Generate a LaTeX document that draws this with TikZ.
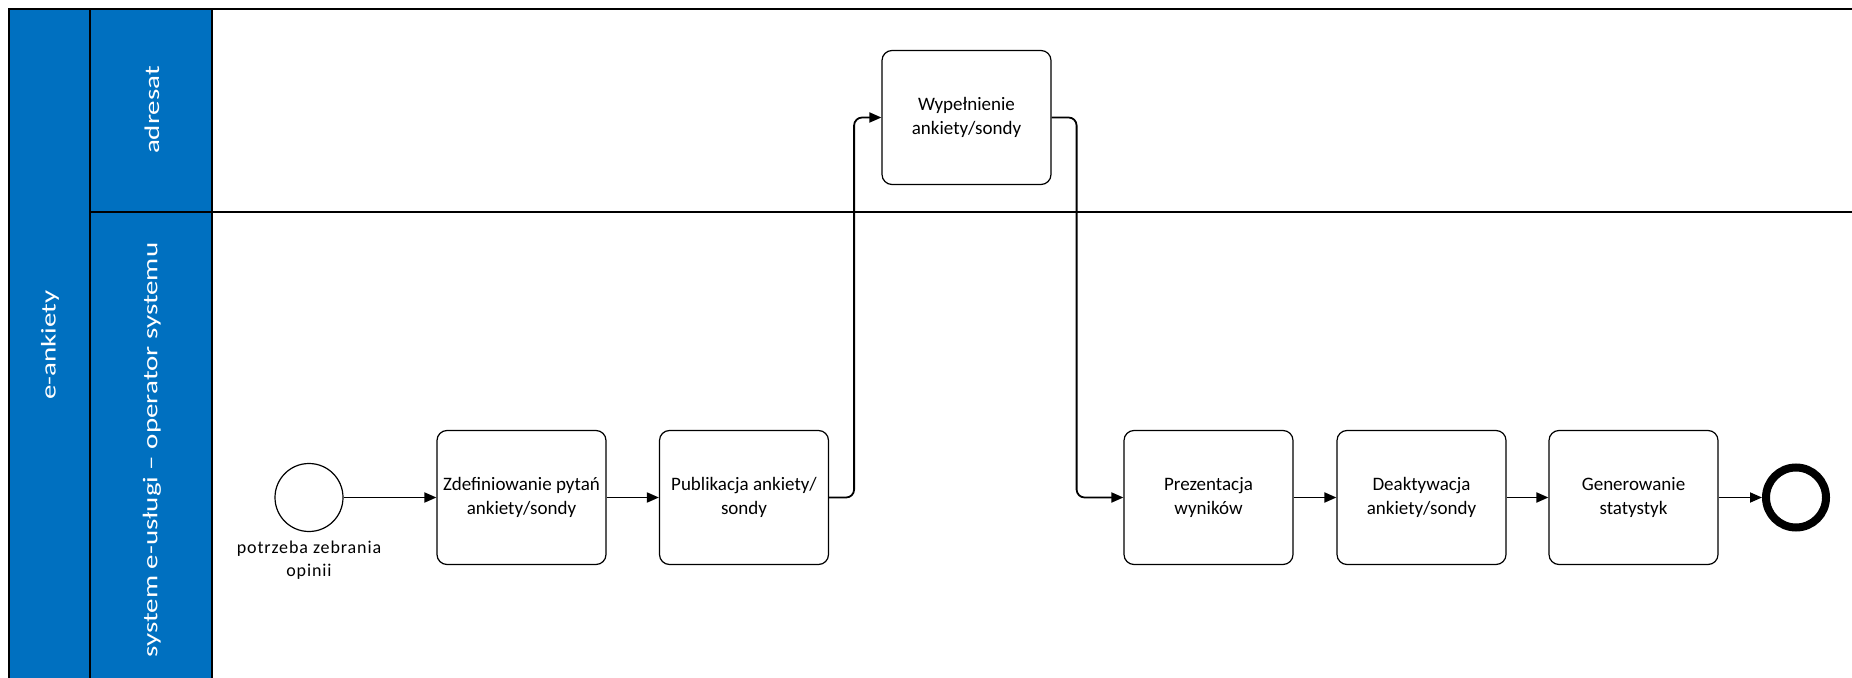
\documentclass[tikz,border=0pt]{standalone}
\usepackage{fontspec}
\setmainfont{Carlito}
\usetikzlibrary{arrows.meta}
\definecolor{hdr}{HTML}{0070C0}
\begin{document}
\begin{tikzpicture}[x=0.5pt,y=-0.5pt,
  task/.style={draw, rounded corners=5pt, minimum width=84.5pt, minimum height=67pt,
    align=center, inner sep=2pt, font=\fontsize{9.5}{12}\selectfont, line width=0.6pt},
  flow/.style={-{Triangle[length=6pt,width=5pt]}, line width=0.9pt, rounded corners=4pt},
  hdrtext/.style={rotate=90, text=white, font=\fontsize{10.5}{12}\selectfont, inner sep=0pt},
  border/.style={line width=1.3pt}]
\useasboundingbox (0,0) rectangle (1852,678);
% headers
\fill[hdr] (9,9) rectangle (212,690);
\draw[border] (1852,9) -- (9,9) -- (9,690);
\draw[border] (90,9) -- (90,690);
\draw[border] (212,9) -- (212,690);
\draw[border] (90,212) -- (1852,212);
\node[hdrtext] (pool) at (50,345) {\scalebox{1.38}[1]{e-ankiety}};
\node[hdrtext] (lane1) at (152,110) {\scalebox{1.38}[1]{adresat}};
\node[hdrtext] (lane2) at (152,450) {\scalebox{1.38}[1]{system e-usługi – operator systemu}};
% events
\node[draw, circle, minimum size=34pt, inner sep=0pt, line width=0.6pt] (start) at (309,497.5) {};
\node[align=center, font=\fontsize{9}{11.5}\selectfont\addfontfeature{LetterSpace=5}, inner sep=0pt, anchor=north] (startlbl) at (309,541) {potrzeba zebrania\\opinii};
\node[draw, circle, minimum size=30pt, inner sep=0pt, line width=4pt] (end) at (1796,497.5) {};
% tasks
\node[task] (zdef) at (521.5,497.5) {Zdefiniowanie pytań\\ankiety/sondy};
\node[task] (publ) at (744,497.5) {Publikacja ankiety/\\sondy};
\node[task] (wyp) at (966.5,117.5) {Wypełnienie\\ankiety/sondy};
\node[task] (prez) at (1208.5,497.5) {Prezentacja\\wyników};
\node[task] (deak) at (1421.5,497.5) {Deaktywacja\\ankiety/sondy};
\node[task] (gen) at (1633.5,497.5) {Generowanie\\statystyk};
% flows
\draw[flow] (start) -- (zdef);
\draw[flow] (zdef) -- (publ);
\draw[flow] (publ.east) -- ++(25,0) |- (wyp.west);
\draw[flow] (wyp.east) -- ++(25,0) |- (prez.west);
\draw[flow] (prez) -- (deak);
\draw[flow] (deak) -- (gen);
\draw[flow] (gen) -- (end);
\end{tikzpicture}
\end{document}
